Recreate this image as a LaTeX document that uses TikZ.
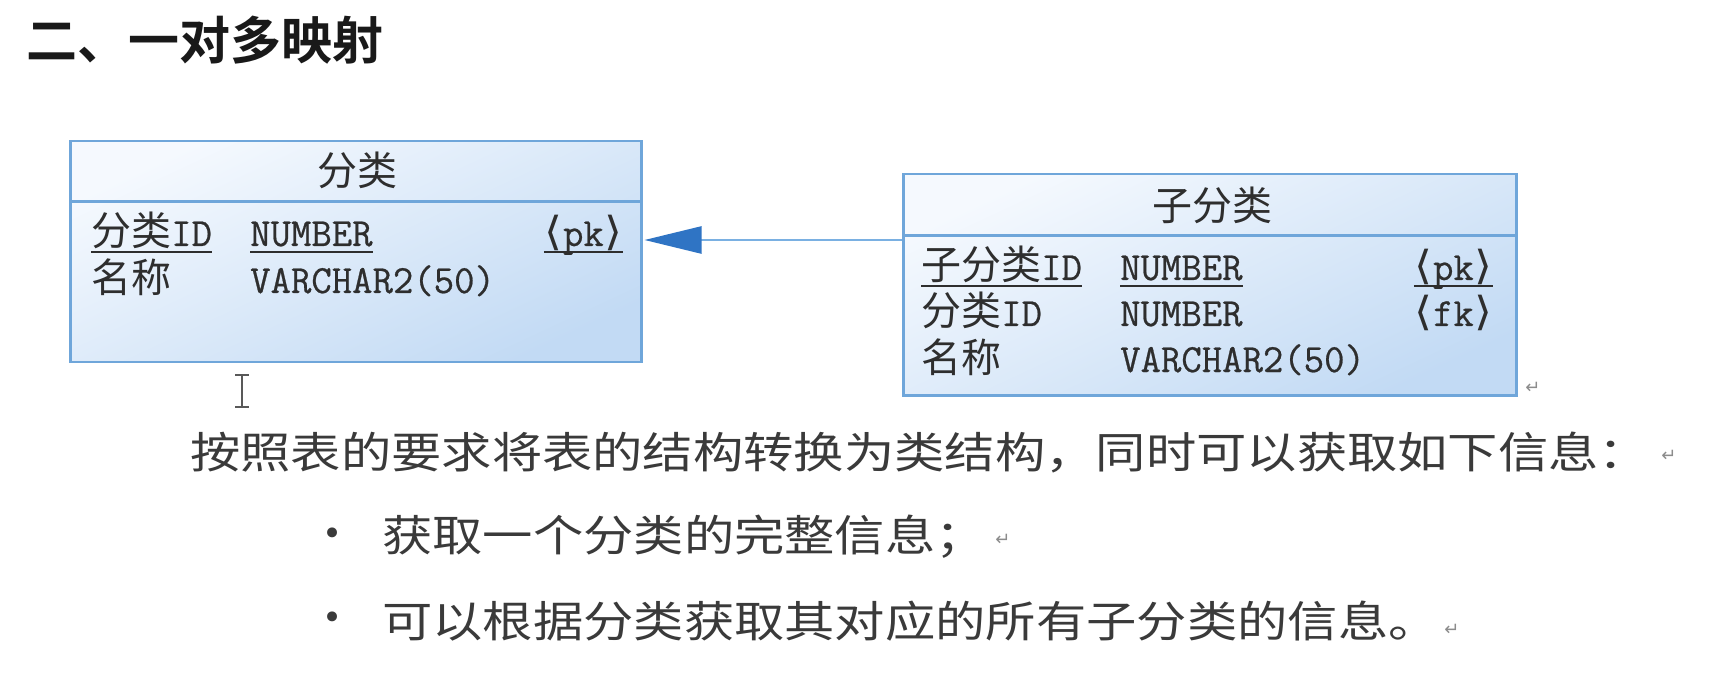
\documentclass[tikz,border=0pt]{standalone}
\usepackage{fontspec}
\usetikzlibrary{arrows.meta}
\newfontfamily\cjk{Noto Sans CJK SC}
\newfontfamily\cjkbold{Noto Sans CJK SC Bold}
\newfontfamily\cjkwide{Noto Sans CJK SC}[FakeStretch=1.17]
\newfontfamily\latm{Latin Modern Mono}[FakeStretch=0.99, FakeBold=0.6]
\newfontfamily\sym{DejaVu Sans}
\newfontfamily\angfont{DejaVu Sans}[FakeStretch=1.15]
\newcommand{\keytag}[1]{{\angfont ⟨}\kern1pt{\latm #1}\kern1pt{\angfont ⟩}}
\definecolor{bordc}{HTML}{6FA6DA}
\definecolor{tabtop}{HTML}{F5F9FE}
\definecolor{tabbot}{HTML}{C2DAF4}
\definecolor{arrc}{HTML}{2F74C4}
\definecolor{linec}{HTML}{7AB0E2}
\definecolor{txt}{HTML}{2E2E2E}
\definecolor{bodytxt}{HTML}{3A3A3A}
\tikzset{
  tbl/.style={draw=bordc, line width=2.5pt, top color=tabtop, bottom color=tabbot, shading angle=25, anchor=north west, inner sep=0pt},
  sepline/.style={draw=bordc, line width=3pt},
  cell/.style={inner sep=0pt, text=txt, font=\fontsize{40}{48}\selectfont},
  head/.style={inner sep=0pt, text=txt, font=\cjk\fontsize{40}{48}\selectfont},
  ul/.style={draw=txt, line width=2pt},
  body/.style={inner sep=0pt, anchor=west, text=bodytxt, font=\cjkwide\fontsize{43}{52}\selectfont},
  retmark/.style={inner sep=0pt, text=black!45, font=\sym\fontsize{18}{20}\selectfont},
  bulletdot/.style={inner sep=0pt, text=bodytxt, font=\sym\fontsize{34}{40}\selectfont},
}
\begin{document}
\begin{tikzpicture}[x=1pt, y=-1pt]
\fill[white] (0,0) rectangle (1710,684);
\useasboundingbox (0,0) rectangle (1710,684);

% title
\node[inner sep=0pt, anchor=west, text=black!90, font=\cjkbold\fontsize{51}{60}\selectfont] (title) at (26,40) {二、一对多映射};

% left table
\node[tbl, minimum width=571pt, minimum height=221pt] (t1) at (69,140) {};
\draw[sepline] (t1.west |- 0,202) -- (t1.east |- 0,202);
\node[head] (h1) at (357,170) {分类};
\node[cell, anchor=base west] (a1) at (91,246) {{\cjk 分类}{\latm ID}};
\node[cell, anchor=base west] (a2) at (250,246) {\latm NUMBER};
\node[cell, anchor=base east] (a3) at (623,246) {\keytag{pk}};
\node[cell, anchor=base west] (b1) at (91,293) {\cjk 名称};
\node[cell, anchor=base west] (b2) at (250,293) {\latm VARCHAR2(50)};
\foreach \n in {a1,a2,a3}{
  \draw[ul] ([yshift=-6pt]\n.base west) -- ([yshift=-6pt]\n.base east);
}

% right table
\node[tbl, minimum width=613pt, minimum height=221pt] (t2) at (902,173) {};
\draw[sepline] (t2.west |- 0,236) -- (t2.east |- 0,236);
\node[head] (h2) at (1212,205) {子分类};
\node[cell, anchor=base west] (c1) at (921,280) {{\cjk 子分类}{\latm ID}};
\node[cell, anchor=base west] (c2) at (1120,280) {\latm NUMBER};
\node[cell, anchor=base east] (c3) at (1493,280) {\keytag{pk}};
\node[cell, anchor=base west] (d1) at (921,326) {{\cjk 分类}{\latm ID}};
\node[cell, anchor=base west] (d2) at (1120,326) {\latm NUMBER};
\node[cell, anchor=base east] (d3) at (1493,326) {\keytag{fk}};
\node[cell, anchor=base west] (e1) at (921,372) {\cjk 名称};
\node[cell, anchor=base west] (e2) at (1120,372) {\latm VARCHAR2(50)};
\foreach \n in {c1,c2,c3}{
  \draw[ul] ([yshift=-6pt]\n.base west) -- ([yshift=-6pt]\n.base east);
}
\node[retmark] (r0) at (1533,388) {↵};

% reference arrow
\draw[linec, line width=2.5pt, -{Triangle[length=57pt, width=27pt, fill=arrc, color=arrc]}]
  (t2.west |- 0,240) -- ([xshift=2pt]t1.east |- 0,240);

% text cursor
\draw[black!65, line width=1.8pt] (242,375) -- (242,407);
\draw[black!65, line width=1.6pt] (235,375) -- (249,375);
\draw[black!65, line width=1.6pt] (235,407) -- (249,407);

% body text
\node[body] (l1) at (190,453) {按照表的要求将表的结构转换为类结构，同时可以获取如下信息：};
\node[retmark] (r1) at (1669,456) {↵};
\node[bulletdot] (bu1) at (333,537) {•};
\node[body] (l2) at (382,537) {获取一个分类的完整信息；};
\node[retmark] (r2) at (1003,540) {↵};
\node[bulletdot] (bu2) at (333,621) {•};
\node[body] (l3) at (382,621) {可以根据分类获取其对应的所有子分类的信息。};
\node[retmark] (r3) at (1452,630) {↵};
\end{tikzpicture}
\end{document}
